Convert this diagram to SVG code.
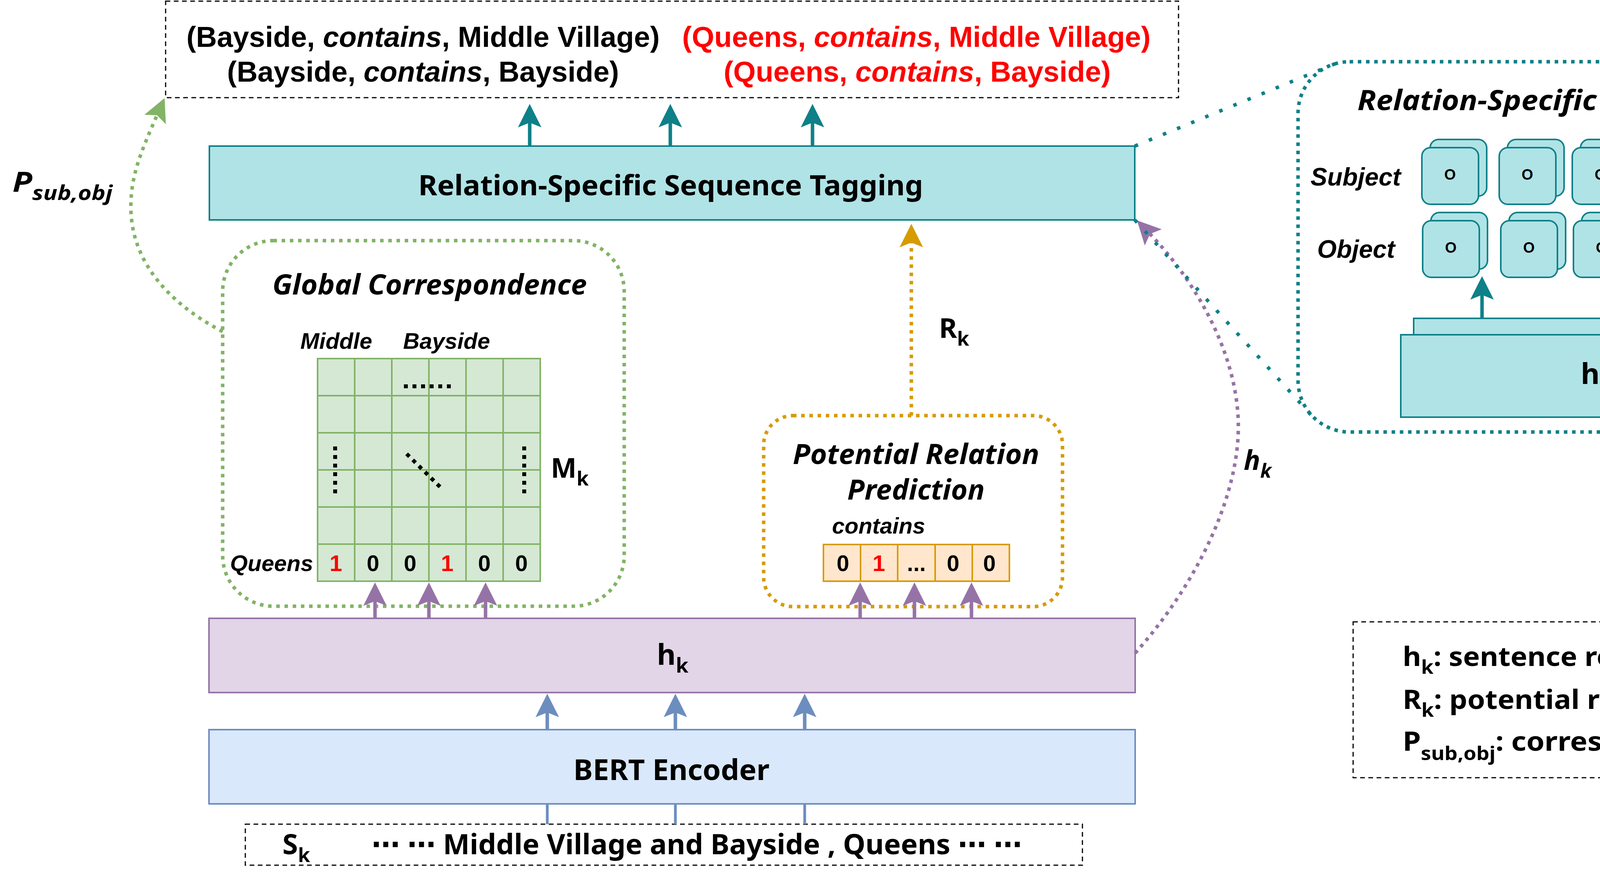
<svg xmlns="http://www.w3.org/2000/svg" width="4977" height="2235" viewBox="0 0 4977 2235">
<style>
.c{font-family:"Noto Sans","DejaVu Sans",sans-serif;font-weight:bold;fill:#000}
.a{font-family:"Liberation Sans",Arial,sans-serif;font-weight:bold;fill:#000}
.it{font-style:italic}
.red{fill:#ff0000}
.dash{fill:none;stroke:#000;stroke-width:3;stroke-dasharray:12 9}
.teal{fill:#b0e3e6;stroke:#0e8088;stroke-width:4}
.card{fill:#b0e3e6;stroke:#0e8088;stroke-width:4}
.cell{fill:#d5e8d4;stroke:#82b366;stroke-width:4}
.vcell{fill:#ffe6cc;stroke:#d79b00;stroke-width:4}
.blk{stroke:#000;stroke-width:10;stroke-dasharray:10 12;fill:none}
.sol{fill:none;stroke-width:9}
.dot{fill:none;stroke-width:9;stroke-dasharray:9 12}
</style>
<defs>
<marker id="mTeal" viewBox="-64 -34 68 68" refX="-48" refY="0" markerWidth="68" markerHeight="68" markerUnits="userSpaceOnUse" orient="auto"><path d="M0 0L-60 -30L-48 0L-60 30Z" fill="#0e8088"/></marker>
<marker id="mPurple" viewBox="-64 -34 68 68" refX="-48" refY="0" markerWidth="68" markerHeight="68" markerUnits="userSpaceOnUse" orient="auto"><path d="M0 0L-60 -30L-48 0L-60 30Z" fill="#9673a6"/></marker>
<marker id="mBlue" viewBox="-64 -34 68 68" refX="-48" refY="0" markerWidth="68" markerHeight="68" markerUnits="userSpaceOnUse" orient="auto"><path d="M0 0L-60 -30L-48 0L-60 30Z" fill="#6c8ebf"/></marker>
<marker id="mGold" viewBox="-64 -34 68 68" refX="-48" refY="0" markerWidth="68" markerHeight="68" markerUnits="userSpaceOnUse" orient="auto"><path d="M0 0L-60 -30L-48 0L-60 30Z" fill="#d79b00"/></marker>
<marker id="mGreen" viewBox="-64 -34 68 68" refX="-48" refY="0" markerWidth="68" markerHeight="68" markerUnits="userSpaceOnUse" orient="auto"><path d="M0 0L-60 -30L-48 0L-60 30Z" fill="#82b366"/></marker>
</defs>
<rect x="0" y="0" width="4977" height="2235" fill="#ffffff"/>

<g id="output-triples">
<rect class="dash" x="424" y="3" width="2593" height="247"/>
<text class="a" x="1083" y="120" font-size="74" text-anchor="middle">(Bayside, <tspan class="it">contains</tspan>, Middle Village)</text>
<text class="a" x="1083" y="209" font-size="74" text-anchor="middle">(Bayside, <tspan class="it">contains</tspan>, Bayside)</text>
<text class="a red" x="2346" y="120" font-size="74" text-anchor="middle">(Queens, <tspan class="it">contains</tspan>, Middle Village)</text>
<text class="a red" x="2348" y="209" font-size="74" text-anchor="middle">(Queens, <tspan class="it">contains</tspan>, Bayside)</text>
</g>

<g id="relation-tagging">
<rect class="teal" x="536" y="374" width="2369" height="189"/>
<text class="c" x="1717" y="500" font-size="72" text-anchor="middle" textLength="1292" lengthAdjust="spacingAndGlyphs">Relation-Specific Sequence Tagging</text>
</g>

<g id="global-correspondence">
<rect x="570" y="616" width="1028" height="936" rx="130" ry="130" class="dot" stroke="#82b366"/>
<text class="c it" x="1100" y="754" font-size="72" text-anchor="middle" textLength="805" lengthAdjust="spacingAndGlyphs">Global Correspondence</text>
<text class="a it" x="769" y="893" font-size="58">Middle</text>
<text class="a it" x="1032" y="893" font-size="58">Bayside</text>
<g id="matrix">
<rect class="cell" x="813" y="918" width="570" height="570"/>
<path d="M908 918V1488M1003 918V1488M1098 918V1488M1193 918V1488M1288 918V1488M813 1013H1383M813 1108H1383M813 1203H1383M813 1298H1383M813 1393H1383" stroke="#82b366" stroke-width="4" fill="none"/>
<line class="blk" x1="1034" y1="989" x2="1160" y2="989"/>
<line class="blk" x1="858" y1="1143" x2="858" y2="1264"/>
<line class="blk" x1="1342" y1="1143" x2="1342" y2="1264"/>
<line class="blk" x1="1041" y1="1162" x2="1127" y2="1247"/>
<text class="a red" x="860" y="1462" font-size="58" text-anchor="middle">1</text>
<text class="a" x="955" y="1462" font-size="58" text-anchor="middle">0</text>
<text class="a" x="1050" y="1462" font-size="58" text-anchor="middle">0</text>
<text class="a red" x="1145" y="1462" font-size="58" text-anchor="middle">1</text>
<text class="a" x="1240" y="1462" font-size="58" text-anchor="middle">0</text>
<text class="a" x="1335" y="1462" font-size="58" text-anchor="middle">0</text>
</g>
<text class="a it" x="589" y="1462" font-size="58">Queens</text>
<text class="c" x="1410" y="1223" font-size="70">M<tspan font-size="50" dy="20">k</tspan></text>
</g>

<g id="potential-relation">
<rect x="1955" y="1064" width="765" height="489" rx="75" ry="75" class="dot" stroke="#d79b00"/>
<text class="c it" x="2345" y="1188" font-size="72" text-anchor="middle" textLength="631" lengthAdjust="spacingAndGlyphs">Potential Relation</text>
<text class="c it" x="2345" y="1279" font-size="72" text-anchor="middle" textLength="352" lengthAdjust="spacingAndGlyphs">Prediction</text>
<text class="a it" x="2130" y="1366" font-size="58">contains</text>
<rect class="vcell" x="2108" y="1394" width="95" height="94"/>
<rect class="vcell" x="2203" y="1394" width="95" height="94"/>
<rect class="vcell" x="2298" y="1394" width="96" height="94"/>
<rect class="vcell" x="2394" y="1394" width="95" height="94"/>
<rect class="vcell" x="2489" y="1394" width="95" height="94"/>
<text class="a" x="2158" y="1462" font-size="58" text-anchor="middle">0</text>
<text class="a red" x="2250" y="1462" font-size="58" text-anchor="middle">1</text>
<text class="a" x="2346" y="1462" font-size="58" text-anchor="middle">...</text>
<text class="a" x="2440" y="1462" font-size="58" text-anchor="middle">0</text>
<text class="a" x="2533" y="1462" font-size="58" text-anchor="middle">0</text>
</g>

<g id="hk-box">
<rect x="535" y="1583" width="2371" height="190" fill="#e1d5e7" stroke="#9673a6" stroke-width="4"/>
<text class="c" x="1722" y="1702" font-size="74" text-anchor="middle">h<tspan font-size="52" dy="20">k</tspan></text>
</g>

<g id="bert-encoder">
<rect x="535" y="1868" width="2371" height="190" fill="#dae8fc" stroke="#6c8ebf" stroke-width="4"/>
<text class="c" x="1719" y="1997" font-size="74" text-anchor="middle" textLength="502" lengthAdjust="spacingAndGlyphs">BERT Encoder</text>
</g>

<g id="input-sentence">
<rect class="dash" x="628" y="2110" width="2143" height="105"/>
<text class="c" x="723" y="2187" font-size="72">S<tspan font-size="50" dy="20">k</tspan></text>
<text class="c" x="951" y="2187" font-size="72" textLength="1665" lengthAdjust="spacingAndGlyphs">⋯ ⋯ Middle Village and Bayside , Queens ⋯ ⋯</text>
</g>

<g id="tagging-detail">
<rect x="3323" y="158" width="1642" height="948" rx="132" ry="132" class="dot" stroke="#0e8088"/>
<text class="c it" x="4120" y="282" font-size="72" text-anchor="middle" textLength="1290" lengthAdjust="spacingAndGlyphs">Relation-Specific Sequence Tagging</text>
<text class="a it" x="3355" y="475" font-size="64">Subject</text>
<text class="a it" x="3372" y="660" font-size="64">Object</text>
<g id="subject-cards">
<rect class="card" x="3661" y="357" width="145" height="145" rx="22"/><rect class="card" x="3640" y="378" width="145" height="145" rx="22"/>
<rect class="card" x="3859" y="357" width="145" height="145" rx="22"/><rect class="card" x="3838" y="378" width="145" height="145" rx="22"/>
<rect class="card" x="4046" y="357" width="145" height="145" rx="22"/><rect class="card" x="4025" y="378" width="145" height="145" rx="22"/>
<rect class="card" x="4236" y="357" width="145" height="145" rx="22"/><rect class="card" x="4215" y="378" width="145" height="145" rx="22"/>
<rect class="card" x="4426" y="357" width="145" height="145" rx="22"/><rect class="card" x="4405" y="378" width="145" height="145" rx="22"/>
<rect class="card" x="4611" y="357" width="145" height="145" rx="22"/><rect class="card" x="4590" y="378" width="145" height="145" rx="22"/>
<text class="a" x="3712" y="460" font-size="38" text-anchor="middle">O</text>
<text class="a" x="3910" y="460" font-size="38" text-anchor="middle">O</text>
<text class="a" x="4097" y="460" font-size="38" text-anchor="middle">O</text>
<text class="a" x="4287" y="460" font-size="38" text-anchor="middle">B-SUB</text>
<text class="a" x="4477" y="460" font-size="38" text-anchor="middle">O</text>
<text class="a" x="4662" y="460" font-size="38" text-anchor="middle">B-SUB</text>
</g>
<g id="object-cards">
<rect class="card" x="3663" y="544" width="145" height="145" rx="22"/><rect class="card" x="3642" y="565" width="145" height="145" rx="22"/>
<rect class="card" x="3863" y="544" width="145" height="145" rx="22"/><rect class="card" x="3842" y="565" width="145" height="145" rx="22"/>
<rect class="card" x="4049" y="544" width="145" height="145" rx="22"/><rect class="card" x="4028" y="565" width="145" height="145" rx="22"/>
<rect class="card" x="4239" y="544" width="145" height="145" rx="22"/><rect class="card" x="4218" y="565" width="145" height="145" rx="22"/>
<rect class="card" x="4428" y="544" width="145" height="145" rx="22"/><rect class="card" x="4407" y="565" width="145" height="145" rx="22"/>
<rect class="card" x="4613" y="544" width="145" height="145" rx="22"/><rect class="card" x="4592" y="565" width="145" height="145" rx="22"/>
<text class="a" x="3714" y="647" font-size="38" text-anchor="middle">O</text>
<text class="a" x="3914" y="647" font-size="38" text-anchor="middle">O</text>
<text class="a" x="4100" y="647" font-size="38" text-anchor="middle">O</text>
<text class="a" x="4290" y="647" font-size="38" text-anchor="middle">B-SUB</text>
<text class="a" x="4479" y="647" font-size="38" text-anchor="middle">O</text>
<text class="a" x="4664" y="647" font-size="38" text-anchor="middle">B-SUB</text>
</g>
<g id="hk-ri">
<rect class="teal" x="3619" y="815" width="1134" height="211"/>
<rect class="teal" x="3586" y="857" width="1136" height="211"/>
<text class="c" x="4152" y="983" font-size="74" text-anchor="middle">h<tspan font-size="52" dy="20">k</tspan><tspan dy="-20"> + r</tspan><tspan font-size="52" dy="20">i</tspan></text>
</g>
<line class="sol" x1="3794" y1="815" x2="3794" y2="755" stroke="#0e8088" marker-end="url(#mTeal)"/>
<line class="sol" x1="4153" y1="815" x2="4153" y2="755" stroke="#0e8088" marker-end="url(#mTeal)"/>
<line class="sol" x1="4517" y1="815" x2="4517" y2="755" stroke="#0e8088" marker-end="url(#mTeal)"/>
</g>

<g id="legend">
<rect class="dash" x="3464" y="1592" width="1296" height="399"/>
<text class="c" x="3591" y="1705" font-size="68" textLength="1006" lengthAdjust="spacingAndGlyphs">h<tspan font-size="48" dy="20">k</tspan><tspan dy="-20">: sentence representation</tspan></text>
<text class="c" x="3591" y="1815" font-size="68" textLength="795" lengthAdjust="spacingAndGlyphs">R<tspan font-size="48" dy="20">k</tspan><tspan dy="-20">: potential relations</tspan></text>
<text class="c" x="3591" y="1922" font-size="68" textLength="1095" lengthAdjust="spacingAndGlyphs">P<tspan font-size="48" dy="24">sub,obj</tspan><tspan dy="-24">: correspondence score</tspan></text>
</g>

<g id="connectors">
<line class="sol" x1="1356" y1="374" x2="1356" y2="314" stroke="#0e8088" marker-end="url(#mTeal)"/>
<line class="sol" x1="1716" y1="374" x2="1716" y2="314" stroke="#0e8088" marker-end="url(#mTeal)"/>
<line class="sol" x1="2080" y1="374" x2="2080" y2="314" stroke="#0e8088" marker-end="url(#mTeal)"/>
<line class="sol" x1="960" y1="1583" x2="960" y2="1539" stroke="#9673a6" marker-end="url(#mPurple)"/>
<line class="sol" x1="1098" y1="1583" x2="1098" y2="1539" stroke="#9673a6" marker-end="url(#mPurple)"/>
<line class="sol" x1="1243" y1="1583" x2="1243" y2="1539" stroke="#9673a6" marker-end="url(#mPurple)"/>
<line class="sol" x1="2202" y1="1583" x2="2202" y2="1539" stroke="#9673a6" marker-end="url(#mPurple)"/>
<line class="sol" x1="2341" y1="1583" x2="2341" y2="1539" stroke="#9673a6" marker-end="url(#mPurple)"/>
<line class="sol" x1="2487" y1="1583" x2="2487" y2="1539" stroke="#9673a6" marker-end="url(#mPurple)"/>
<line class="sol" x1="1401" y1="1868" x2="1401" y2="1824" stroke="#6c8ebf" marker-end="url(#mBlue)"/>
<line class="sol" x1="1729" y1="1868" x2="1729" y2="1824" stroke="#6c8ebf" marker-end="url(#mBlue)"/>
<line class="sol" x1="2060" y1="1868" x2="2060" y2="1824" stroke="#6c8ebf" marker-end="url(#mBlue)"/>
<path d="M1401 2110V2058M1729 2110V2058M2060 2110V2058" fill="none" stroke="#6c8ebf" stroke-width="7"/>
<line class="dot" x1="2333" y1="1064" x2="2333" y2="621" stroke="#d79b00" marker-end="url(#mGold)"/>
<path class="dot" d="M570 849C420 770 335 660 335 530C335 450 360 390 402 295" stroke="#82b366" marker-end="url(#mGreen)"/>
<path class="dot" d="M2906 1672C3060 1500 3175 1270 3170 1080C3165 900 3060 720 2944 599" stroke="#9673a6" marker-end="url(#mPurple)"/>
<line x1="2905" y1="374" x2="3445" y2="152" stroke="#0e8088" stroke-width="9" stroke-dasharray="9 30"/>
<line x1="2905" y1="563" x2="3372" y2="1080" stroke="#0e8088" stroke-width="9" stroke-dasharray="9 30"/>
<text class="c" x="2404" y="865" font-size="70">R<tspan font-size="50" dy="20">k</tspan></text>
<text class="c it" x="3184" y="1203" font-size="70">h<tspan font-size="50" dy="20">k</tspan></text>
<text class="c it" x="32" y="491" font-size="72" textLength="256" lengthAdjust="spacingAndGlyphs">P<tspan font-size="52" dy="21">sub,obj</tspan></text>
</g>
</svg>
